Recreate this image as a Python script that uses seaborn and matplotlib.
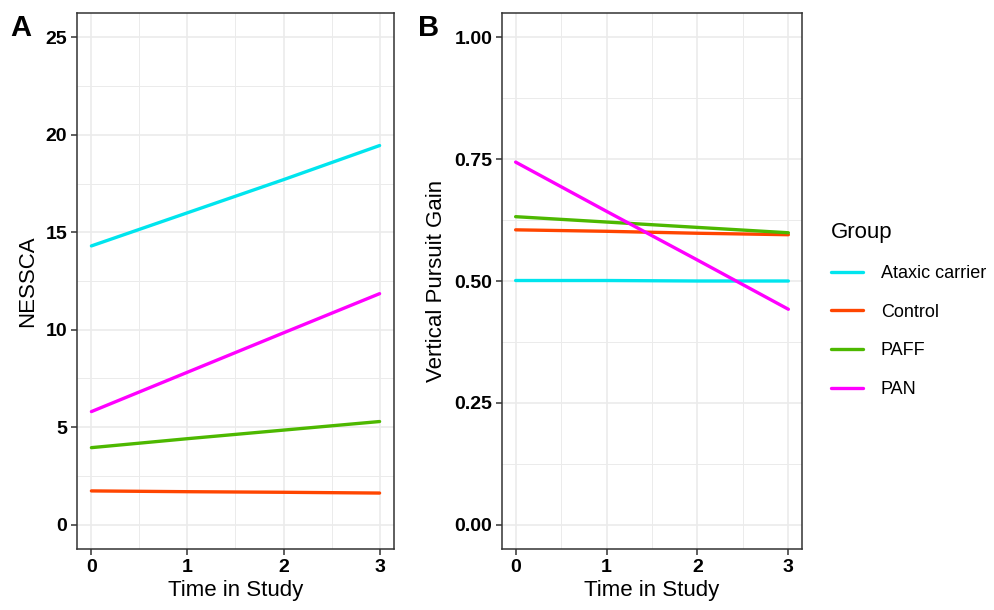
import numpy as np
import pandas as pd
import matplotlib
matplotlib.use("Agg")
import matplotlib.pyplot as plt
import seaborn as sns
from matplotlib.lines import Line2D

# ---- data ----
time = [0, 1, 2, 3]
groups = ["Ataxic carrier", "Control", "PAFF", "PAN"]
colors = ["#00E5EE", "#FF4500", "#4DB800", "#FF00FF"]

nessca_ataxic = [14.3, 16.0, 17.7, 19.45]
nessca_control = [1.73, 1.69, 1.66, 1.62]
nessca_paff = [3.95, 4.41, 4.85, 5.29]
nessca_pan = [5.8, 7.82, 9.84, 11.85]

gain_ataxic = [0.501, 0.501, 0.500, 0.500]
gain_control = [0.605, 0.602, 0.598, 0.595]
gain_paff = [0.632, 0.621, 0.610, 0.599]
gain_pan = [0.744, 0.643, 0.543, 0.442]

nessca_ticks = [0, 5, 10, 15, 20, 25]
gain_ticks = [0.0, 0.25, 0.5, 0.75, 1.0]
gain_ticklabels = ["0.00", "0.25", "0.50", "0.75", "1.00"]


def long_df(series):
    rows = []
    for g, vals in zip(groups, series):
        for t, v in zip(time, vals):
            rows.append({"Time": t, "Group": g, "Value": v})
    return pd.DataFrame(rows)


df_a = long_df([nessca_ataxic, nessca_control, nessca_paff, nessca_pan])
df_b = long_df([gain_ataxic, gain_control, gain_paff, gain_pan])

sns.set_style("white")
plt.rcParams["font.family"] = ["Liberation Sans", "DejaVu Sans"]
plt.rcParams["text.color"] = "black"
plt.rcParams["axes.labelcolor"] = "black"

fig = plt.figure(figsize=(9.95, 6.1), dpi=100)
ax_a = fig.add_axes([77 / 995, 1 - 549 / 610, 317 / 995, 536 / 610])
ax_b = fig.add_axes([502 / 995, 1 - 549 / 610, 300 / 995, 536 / 610])

palette = dict(zip(groups, colors))


def style_axis(ax, yticks, ylim, minor_y):
    ax.set_xlim(-0.15, 3.15)
    ax.set_ylim(*ylim)
    ax.set_xticks(time)
    ax.set_yticks(yticks)
    ax.set_xticks([0.5, 1.5, 2.5], minor=True)
    ax.set_yticks(minor_y, minor=True)
    ax.grid(True, which="major", color="#EBEBEB", linewidth=1.2)
    ax.grid(True, which="minor", color="#EBEBEB", linewidth=0.7)
    ax.set_axisbelow(True)
    for s in ax.spines.values():
        s.set_color("#333333")
        s.set_linewidth(1.1)
    ax.tick_params(axis="both", which="major", direction="out", length=4,
                   width=1.1, color="#333333", labelsize=14, pad=3,
                   bottom=True, left=True, labelcolor="black")
    ax.tick_params(axis="both", which="minor", length=0)
    for lab in ax.get_xticklabels() + ax.get_yticklabels():
        lab.set_fontweight("bold")
    ax.set_xlabel("Time in Study", fontsize=16, labelpad=3)


sns.lineplot(data=df_a, x="Time", y="Value", hue="Group", palette=palette,
             linewidth=2.4, ax=ax_a, legend=False)
style_axis(ax_a, nessca_ticks, (-1.25, 26.25), [2.5, 7.5, 12.5, 17.5, 22.5])
ax_a.set_ylabel("NESSCA", fontsize=16, labelpad=5)

sns.lineplot(data=df_b, x="Time", y="Value", hue="Group", palette=palette,
             linewidth=2.4, ax=ax_b, legend=False)
style_axis(ax_b, gain_ticks, (-0.05, 1.05), [0.125, 0.375, 0.625, 0.875])
ax_b.set_yticklabels(gain_ticklabels)
for lab in ax_b.get_yticklabels():
    lab.set_fontweight("bold")
ax_b.set_ylabel("Vertical Pursuit Gain", fontsize=16, labelpad=5)

fig.text(10 / 995, 1 - 28 / 610, "A", fontsize=21, fontweight="bold", va="center")
fig.text(418 / 995, 1 - 28 / 610, "B", fontsize=21, fontweight="bold", va="center")

handles = [Line2D([0], [0], color=c, linewidth=2.4) for c in colors]
leg = fig.legend(handles, groups, title="Group", loc="upper left",
                 bbox_to_anchor=(815 / 995, 1 - 206 / 610), frameon=False,
                 fontsize=13, title_fontsize=16, handlelength=1.75,
                 labelspacing=1.2, handletextpad=1.0)
leg._legend_box.align = "left"

fig.savefig("out.png", dpi=100)
